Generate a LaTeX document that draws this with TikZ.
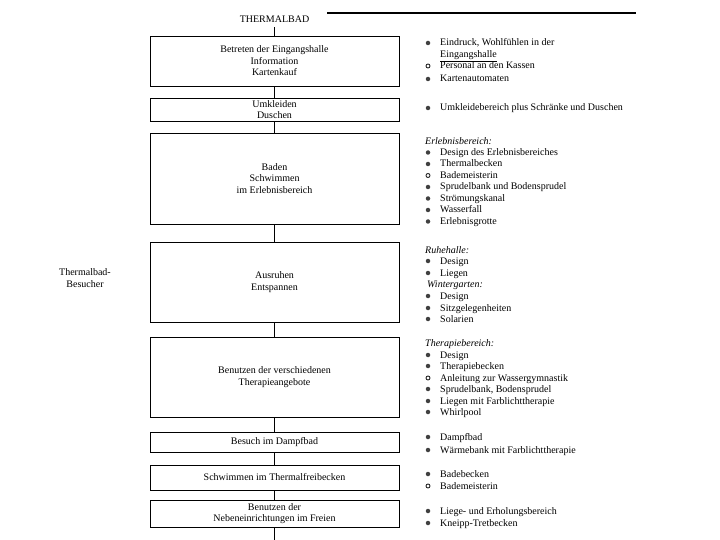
\documentclass[tikz,border=0pt]{standalone}
\usepackage{fontspec}
\setmainfont{Liberation Serif}
\newcommand{\myitem}[4]{%
  \node[#3dot] (#1d) at (428,#2) {};
  \node[itemtext] (#1) at (440,#2+3) {#4};}
\begin{document}
\begin{tikzpicture}[x=1pt,y=-1pt,
  box/.style={draw,line width=0.9pt,minimum width=249pt,inner sep=0pt,align=center,font=\fontsize{10}{11.5}\selectfont},
  conn/.style={line width=0.7pt},
  itemtext/.style={anchor=base west,inner sep=0pt,font=\fontsize{10}{12}\selectfont},
  head/.style={anchor=base west,inner sep=0pt,font=\fontsize{10}{12}\selectfont\itshape},
  fdot/.style={circle,fill=black!75,inner sep=0pt,minimum size=4.5pt},
  odot/.style={circle,draw=black!85,line width=0.9pt,inner sep=0pt,minimum size=4pt},
]
\useasboundingbox (0,0) rectangle (720,540);

% title and header rule
\node[font=\fontsize{10}{12}\selectfont,inner xsep=0pt,inner ysep=4.5pt] (title) at (274.5,19) {THERMALBAD};
\coordinate (tl1) at (327,13);
\coordinate (tl2) at (636,13);
\draw[line width=1.1pt] (tl1) -- (tl2);

% boxes
\node[box,minimum height=50pt] (b1) at (274.5,61) {Betreten der Eingangshalle\\Information\\Kartenkauf};
\node[box,minimum height=23pt] (b2) at (274.5,109.5) {Umkleiden\\Duschen};
\node[box,minimum height=91pt] (b3) at (274.5,178.5) {Baden\\Schwimmen\\im Erlebnisbereich};
\node[box,minimum height=80pt] (b4) at (274.5,282) {Ausruhen\\Entspannen};
\node[box,minimum height=80pt] (b5) at (274.5,377) {Benutzen der verschiedenen\\Therapieangebote};
\node[box,minimum height=20pt] (b6) at (274.5,442) {Besuch im Dampfbad};
\node[box,minimum height=25pt] (b7) at (274.5,477.5) {Schwimmen im Thermalfreibecken};
\node[box,minimum height=27pt] (b8) at (274.5,513.5) {Benutzen der\\Nebeneinrichtungen im Freien};
\coordinate (bend) at (274.5,540);

% connectors
\draw[conn] (title.south) -- (b1.north);
\draw[conn] (b1.south) -- (b2.north);
\draw[conn] (b2.south) -- (b3.north);
\draw[conn] (b3.south) -- (b4.north);
\draw[conn] (b4.south) -- (b5.north);
\draw[conn] (b5.south) -- (b6.north);
\draw[conn] (b6.south) -- (b7.north);
\draw[conn] (b7.south) -- (b8.north);
\draw[conn] (b8.south) -- (bend);

% left label
\node[align=center,font=\fontsize{10}{12}\selectfont] (visitor) at (85,278) {Thermalbad-\\Besucher};

% right column
\myitem{r1}{43}{f}{Eindruck, Wohlfühlen in der}
\node[itemtext] (r1b) at (440,55+3) {\underline{Eingangshalle}};
\myitem{r2}{66}{o}{Personal an den Kassen}
\myitem{r3}{79}{f}{Kartenautomaten}
\myitem{r4}{108}{f}{Umkleidebereich plus Schränke und Duschen}

\node[head] (h1) at (425,142+3) {Erlebnisbereich:};
\myitem{e1}{152.5}{f}{Design des Erlebnisbereiches}
\myitem{e2}{164}{f}{Thermalbecken}
\myitem{e3}{175.5}{o}{Bademeisterin}
\myitem{e4}{187}{f}{Sprudelbank und Bodensprudel}
\myitem{e5}{198.5}{f}{Strömungskanal}
\myitem{e6}{210}{f}{Wasserfall}
\myitem{e7}{221.5}{f}{Erlebnisgrotte}

\node[head] (h2) at (425,250+3) {Ruhehalle:};
\myitem{u1}{261}{f}{Design}
\myitem{u2}{273}{f}{Liegen}
\node[head] (h3) at (427,284+3) {Wintergarten:};
\myitem{w1}{296}{f}{Design}
\myitem{w2}{308}{f}{Sitzgelegenheiten}
\myitem{w3}{319}{f}{Solarien}

\node[head] (h4) at (425,343+3) {Therapiebereich:};
\myitem{t1}{355}{f}{Design}
\myitem{t2}{366}{f}{Therapiebecken}
\myitem{t3}{378}{o}{Anleitung zur Wassergymnastik}
\myitem{t4}{389}{f}{Sprudelbank, Bodensprudel}
\myitem{t5}{401}{f}{Liegen mit Farblichttherapie}
\myitem{t6}{412}{f}{Whirlpool}

\myitem{d1}{437}{f}{Dampfbad}
\myitem{d2}{450}{f}{Wärmebank mit Farblichttherapie}

\myitem{s1}{474}{f}{Badebecken}
\myitem{s2}{486}{o}{Bademeisterin}

\myitem{n1}{511}{f}{Liege- und Erholungsbereich}
\myitem{n2}{523}{f}{Kneipp-Tretbecken}
\end{tikzpicture}
\end{document}
